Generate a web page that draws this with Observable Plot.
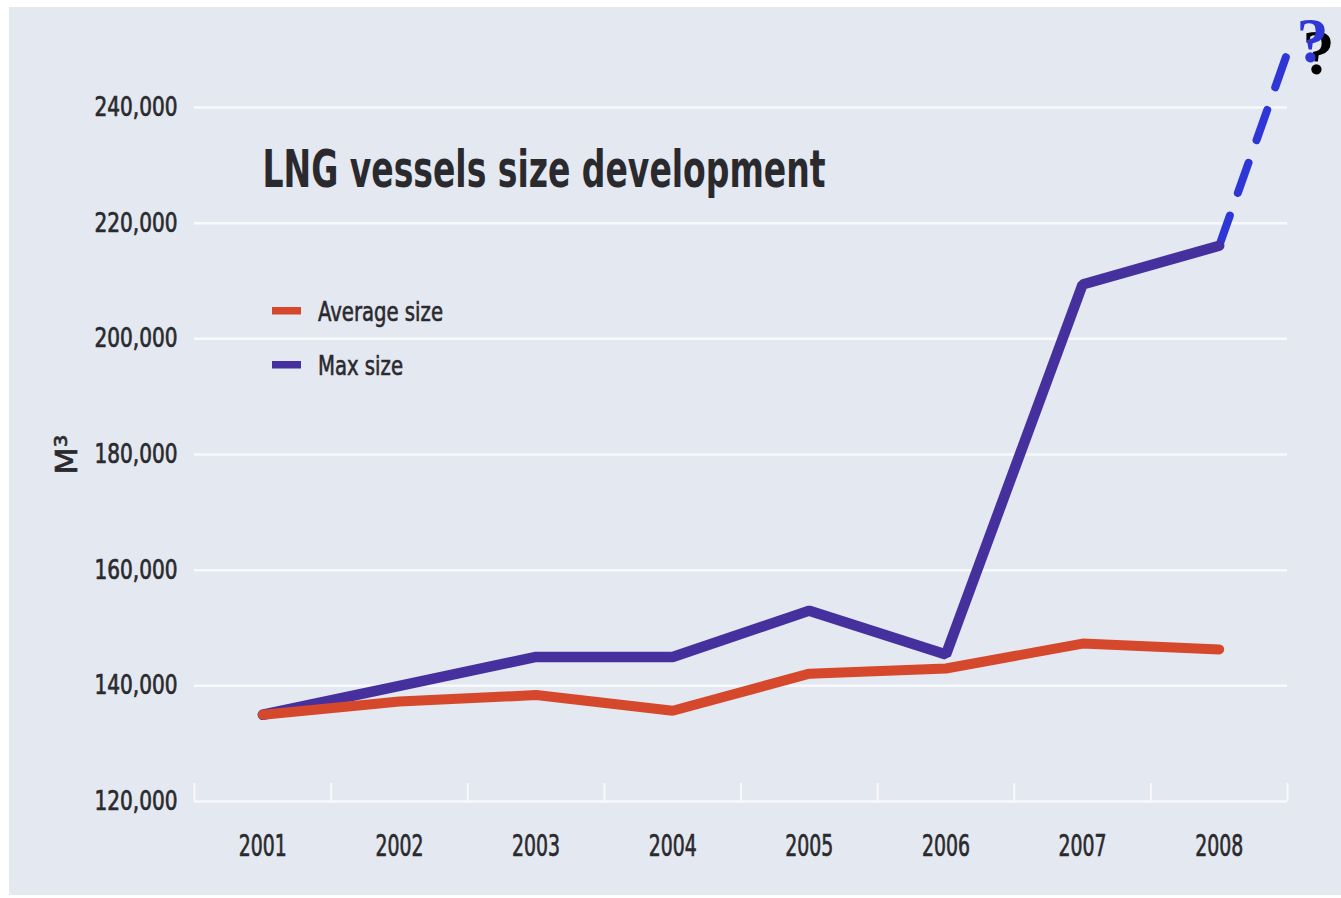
<!DOCTYPE html>
<html><head><meta charset="utf-8">
<script src="https://cdn.jsdelivr.net/npm/d3@7"></script>
<script src="https://cdn.jsdelivr.net/npm/@observablehq/plot@0.6"></script>
<style>
html,body{margin:0;padding:0;background:#fff;}
#wrap{position:relative;width:1341px;height:898px;overflow:hidden;}
#bg{position:absolute;left:9px;top:7px;right:0;bottom:3px;background:#e4e8f0;}
#chart{position:absolute;left:0;top:0;}
</style></head>
<body><div id="wrap"><div id="bg"></div><div id="chart"></div></div>
<script>
// ---- data ----
const years = [2001, 2002, 2003, 2004, 2005, 2006, 2007, 2008];
const avgSize = [135000, 137300, 138400, 135700, 142100, 143000, 147300, 146300];
const maxSize = [135000, 140000, 145000, 145000, 153000, 145400, 209400, 216100];
const projYears = [2008, 2008.5];
const projSize = [216100, 249500];
const yTicks = [120000, 140000, 160000, 180000, 200000, 220000, 240000];
const seriesNames = ["Average size", "Max size"];
const seriesColors = ["#d5482b", "#45309e"];
const projColor = "#2f36d6";
const titleText = "LNG vessels size development";
const yLabel = "M³";
const qMark = "?";

const FONT = "'Liberation Sans Narrow','DejaVu Sans Condensed',Roboto,'Noto Sans',sans-serif";
const textColor = "#2a2a2e";

const avgData = years.map((y, i) => ({year: y, value: avgSize[i]}));
const maxData = years.map((y, i) => ({year: y, value: maxSize[i]}));
const projData = projYears.map((y, i) => ({year: y, value: projSize[i]}));
const bounds = [years[0] - 0.5, ...years.map(y => y + 0.5)];
const projEnd = [projData[projData.length - 1]];

const chart = Plot.plot({
  width: 1341,
  height: 898,
  marginLeft: 194,
  marginRight: 54,
  marginTop: 107,
  marginBottom: 97,
  style: {background: "transparent", fontFamily: FONT, color: textColor},
  x: {type: "linear", domain: [bounds[0], bounds[bounds.length - 1]]},
  y: {domain: [yTicks[0], yTicks[yTicks.length - 1]]},
  marks: [
    Plot.ruleY(yTicks, {stroke: "#f8f9fc", strokeWidth: 2.5}),
    Plot.ruleX(bounds, {y1: yTicks[0], y2: yTicks[0] + 3100, stroke: "#f8f9fc", strokeWidth: 2}),
    Plot.axisY({ticks: yTicks, tickSize: 0, tickPadding: 17, tickFormat: d3.format(","), fontSize: 27,
      label: yLabel, labelAnchor: "center", labelArrow: "none", labelOffset: 140}),
    Plot.axisX({ticks: years, tickSize: 0, tickPadding: 33, tickFormat: d => String(d), fontSize: 30, label: null}),
    Plot.line(projData, {x: "year", y: "value", stroke: projColor, strokeWidth: 8, strokeDasharray: "32,24"}),
    Plot.line(maxData, {x: "year", y: "value", stroke: seriesColors[1], strokeWidth: 10.5, strokeLinecap: "round", strokeLinejoin: "miter"}),
    Plot.line(avgData, {x: "year", y: "value", stroke: seriesColors[0], strokeWidth: 10, strokeLinecap: "round", strokeLinejoin: "miter"}),
    Plot.text(projEnd, {x: "year", y: "value", text: () => qMark, fill: "#000", fontFamily: "'Liberation Serif',serif", fontWeight: "bold", fontSize: 64, dx: 31, dy: 1}),
    Plot.text(projEnd, {x: "year", y: "value", text: () => qMark, fill: projColor, fontFamily: "'Liberation Serif',serif", fontWeight: "bold", fontSize: 64, dx: 25, dy: -11}),
    Plot.text([titleText], {frameAnchor: "top-left", lineAnchor: "top", text: d => d, dx: 68, dy: 43, fontSize: 52, fontWeight: 600, textAnchor: "start", fill: textColor, className: "title-text"})
  ]
});

document.getElementById("chart").appendChild(chart);
const svg = d3.select(chart);

// legend
const lg = svg.append("g").attr("class", "legend").attr("text-anchor", "start");
seriesNames.forEach((name, i) => {
  const yy = 311 + i * 54;
  lg.append("rect").attr("x", 272).attr("y", yy - 4).attr("width", 29).attr("height", 7.5).attr("fill", seriesColors[i]);
  lg.append("text").attr("x", 318).attr("y", yy + 10).attr("font-size", 27)
    .attr("fill", textColor).attr("stroke", textColor).attr("stroke-width", 0.6)
    .attr("font-family", FONT).attr("class", "legend-text").text(name);
});

function squeeze(sel, refIndex, target) {
  const nodes = sel.nodes();
  if (!nodes.length) return;
  const ref = nodes[refIndex].getComputedTextLength();
  const k = target / ref;
  nodes.forEach(n => {
    const L = n.getComputedTextLength();
    n.setAttribute("textLength", (L * k).toFixed(1));
    n.setAttribute("lengthAdjust", "spacingAndGlyphs");
  });
}
svg.selectAll('g[aria-label="y-axis tick label"] text, g[aria-label="x-axis tick label"] text')
  .attr("fill", textColor).attr("stroke", textColor).attr("stroke-width", 0.7);
squeeze(svg.selectAll('g[aria-label="y-axis tick label"] text'), 0, 83);
squeeze(svg.selectAll('g[aria-label="x-axis tick label"] text'), 0, 48);
squeeze(svg.selectAll('.title-text text'), 0, 563);
squeeze(svg.selectAll('text.legend-text'), 0, 125);
svg.selectAll('g[aria-label="y-axis label"] text').attr("font-size", 31).attr("stroke", textColor).attr("stroke-width", 0.6);
squeeze(svg.selectAll('g[aria-label="y-axis label"] text'), 0, 40);
</script>
</body></html>
